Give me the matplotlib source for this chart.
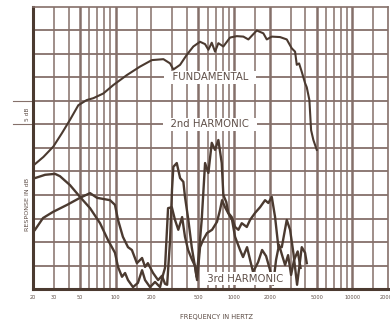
import matplotlib
matplotlib.use('Agg')
import matplotlib.pyplot as plt
from matplotlib.ticker import NullLocator

# ---- data (Hz, dB above bottom line) ----
fund_f = [20.4, 24.5, 29.7, 35, 41.1, 48.3, 56.9, 64.7, 78.6, 95.5, 124, 160, 202, 253,
          288, 307, 350, 398, 453, 516, 569, 607, 648, 691, 737, 812, 925, 1054, 1199,
          1321, 1556, 1769, 1891, 2084, 2448, 2789, 3075, 3279, 3389, 3545, 3735, 3984,
          4118, 4332, 4478, 4682, 5001]
fund_db = [26.4, 28.1, 30.3, 33.1, 36.0, 39.1, 40.2, 40.6, 41.6, 43.4, 45.5, 47.3, 48.7, 48.9,
           48.0, 46.7, 47.7, 49.8, 51.6, 52.6, 52.1, 50.9, 52.4, 50.5, 52.3, 51.6, 53.5, 53.8, 53.7,
           53.1, 55.0, 54.4, 53.1, 53.7, 53.6, 53.1, 51.2, 50.5, 47.7, 48.0, 46.2, 43.8,
           42.9, 40.2, 33.8, 31.7, 29.6]

h2_f = [20.8, 24.3, 29.5, 38.8, 49.9, 60.7, 69.5, 89.5, 98.6, 104.6, 115, 127, 137, 151, 167,
        177, 187, 207, 228, 246, 261, 272, 288, 299, 307, 328, 350, 373, 385, 411, 439, 468,
        482, 499, 533, 569, 607, 648, 691, 737, 787, 812, 860, 895, 956, 1020, 1088, 1162,
        1281, 1366, 1506, 1659, 1829, 1950, 2084, 2222, 2370, 2532, 2789, 2975, 3172, 3409,
        3735, 3984, 4118]
h2_db = [12.6, 15.1, 16.4, 17.9, 19.4, 20.4, 19.4, 18.9, 17.9, 14.7, 11.1, 8.9, 8.3, 5.5, 6.6,
         4.7, 5.5, 3.4, 1.9, 2.8, 1.1, 0.9, 10.4, 21.1, 26.0, 26.8, 23.6, 22.8, 19.6, 14.7, 8.9, 4.7,
         2.6, 6.2, 14.7, 26.8, 24.7, 31.1, 29.6, 31.7, 26.8, 20.0, 18.5, 16.2, 15.3, 13.2, 12.6, 14.0,
         13.2, 14.7, 16.2, 17.4, 18.9, 18.3, 19.6, 15.3, 8.9, 8.9, 14.7, 12.6, 7.7, 0.9,
         8.9, 7.7, 5.5]

h3_f = [20.8, 25.3, 30.7, 33.8, 41.1, 49.9, 60.7, 73.7, 86.1, 98.6, 104.6, 113, 120, 127, 140,
        154, 167, 177, 195, 215, 237, 251, 261, 277, 298, 317, 338, 364, 385, 409, 442, 468,
        487, 516, 547, 591, 652, 718, 761, 792, 839, 890, 962, 1020, 1124, 1191, 1288, 1366,
        1448, 1596, 1726, 1866, 2016, 2137, 2265, 2401, 2546, 2700, 2862, 3034, 3217, 3450,
        3650]
h3_db = [23.6, 24.3, 24.5, 24.0, 22.1, 19.6, 17.2, 14.0, 10.4, 7.7, 4.7, 2.6, 3.4, 1.9, 0.4,
         1.3, 4.0, 1.9, 0.4, 1.5, 0.4, 3.0, 4.5, 17.2, 17.4, 14.7, 12.6, 15.3, 11.1, 8.3, 6.2, 4.9,
         1.9, 8.9, 10.4, 11.9, 12.6, 14.3, 16.8, 18.9, 17.4, 16.2, 14.7, 11.1, 8.3, 6.8, 8.9, 6.2,
         3.6, 5.7, 8.3, 7.0, 4.0, 0.9, 6.2, 9.4, 7.2, 5.1, 7.2, 3.0, 6.2, 8.0,
         4.5]

tick_f = [20, 30, 50, 100, 200, 500, 1000, 2000, 5000, 10000, 20000]
tick_lab = ['20', '30', '50', '100', '200', '500', '1000', '2000', '5000', '10000', '20000']

grid_f = [30, 40, 50, 60, 70, 80, 90, 100, 150, 200, 300, 400, 500, 600, 700, 800, 900,
          1000, 1500, 2000, 3000, 4000, 5000, 6000, 7000, 8000, 9000, 10000, 15000]
heavy_f = [50, 100, 500, 1000, 2000, 5000, 10000]

ink = '#4b3a30'
grid_c = '#85706a'
text_c = '#5e4e47'

fig = plt.figure(figsize=(3.9, 3.27), dpi=100)
ax = fig.add_axes([33/390, 38/327, 355/390, 282/327])
ax.set_xscale('log')
ax.set_xlim(20, 20000)
ax.set_ylim(0, 60)

for f in grid_f:
    ax.axvline(f, color=grid_c, lw=1.8 if f in heavy_f else 1.1, zorder=1)
for d in range(5, 60, 5):
    ax.axhline(d, color=grid_c, lw=1.3, zorder=1)

ax.plot(fund_f, fund_db, color=ink, lw=1.5, zorder=4)
ax.plot(h2_f, h2_db, color=ink, lw=1.7, zorder=4)
ax.plot(h3_f, h3_db, color=ink, lw=1.7, zorder=4)

box = dict(facecolor='white', edgecolor='none', pad=1.2)
ax.text(627, 45, '  FUNDAMENTAL  ', fontsize=7.3, color=text_c, ha='center', va='center',
        bbox=box, zorder=5)
ax.text(627, 35, '  2nd HARMONIC  ', fontsize=7.3, color=text_c, ha='center', va='center',
        bbox=box, zorder=5)
ax.text(1239, 2.2, ' 3rd HARMONIC ', fontsize=7.3, color=text_c, ha='center', va='center',
        bbox=box, zorder=5)

for s in ['left', 'bottom']:
    ax.spines[s].set_color(ink)
    ax.spines[s].set_linewidth(2.2)
for s in ['top', 'right']:
    ax.spines[s].set_color(grid_c)
    ax.spines[s].set_linewidth(1.2)

ax.set_xticks(tick_f)
ax.set_xticklabels(tick_lab)
ax.xaxis.set_minor_locator(NullLocator())
ax.set_yticks([])
ax.tick_params(axis='x', length=0, pad=4.3, labelsize=3.6, colors=text_c)

# 5 dB scale marks left of the axis
trans = ax.get_yaxis_transform()
for d in [40, 35]:
    ax.plot([-0.056, 0], [d, d], color=grid_c, lw=0.8, transform=trans, clip_on=False)
fig.text(28/390, 1 - 114/327, '5 dB', rotation=90, fontsize=4.2, color=text_c,
         ha='center', va='center')
fig.text(28/390, 1 - 204/327, 'RESPONSE IN dB', rotation=90, fontsize=4.6, color=text_c,
         ha='center', va='center')
fig.text(217/390, 1 - 317/327, 'FREQUENCY IN HERTZ', fontsize=4.8, color=text_c,
         ha='center', va='center')

fig.savefig('out.png', dpi=100)
